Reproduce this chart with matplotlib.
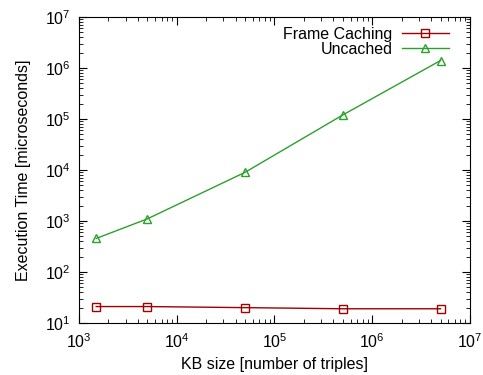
import matplotlib
matplotlib.use("Agg")
import matplotlib.pyplot as plt
from matplotlib.ticker import LogLocator, NullFormatter

# KB sizes (number of triples)
kb_size = [1500, 5000, 50000, 500000, 5000000]
# execution times in microseconds
frame_caching = [21, 21, 20, 19, 19]
uncached = [455, 1100, 9000, 120000, 1400000]

plt.rcParams['font.family'] = ['Liberation Sans', 'DejaVu Sans']
plt.rcParams['mathtext.fontset'] = 'custom'
plt.rcParams['mathtext.rm'] = 'Liberation Sans'

fig = plt.figure(figsize=(4.83, 3.75), dpi=100)
ax = fig.add_axes([0.1636, 0.1387, 0.8094, 0.816])

red = '#a00000'
green = '#2ca02c'
ax.plot(kb_size, frame_caching, color=red, lw=1, marker='s', ms=6,
        mfc='none', mec=red, mew=1, label='Frame Caching')
ax.plot(kb_size, uncached, color=green, lw=1, marker='^', ms=6,
        mfc='none', mec=green, mew=1, label='Uncached')

ax.set_xscale('log')
ax.set_yscale('log')
ax.set_xlim(1e3, 1e7)
ax.set_ylim(1e1, 1e7)

for axis in (ax.xaxis, ax.yaxis):
    axis.set_major_locator(LogLocator(base=10, numticks=20))
    axis.set_minor_locator(LogLocator(base=10, subs=range(2, 10), numticks=20))
    axis.set_minor_formatter(NullFormatter())

ax.tick_params(which='both', direction='in', top=True, right=True, labelsize=11.5)
ax.tick_params(which='major', length=6, width=0.8)
ax.tick_params(which='minor', length=3, width=0.6)
ax.tick_params(axis='x', pad=7)
ax.tick_params(axis='y', pad=6)

ax.set_xlabel('KB size [number of triples]', fontsize=11.5, labelpad=4)
ax.set_ylabel('Execution Time [microseconds]', fontsize=11.5, labelpad=10)

ax.legend(loc='upper right', frameon=False, markerfirst=False, fontsize=11.5,
          handlelength=2.9, labelspacing=0.0, borderaxespad=0.2,
          handletextpad=0.6, bbox_to_anchor=(0.97, 1.0))

fig.savefig('out.png', dpi=100)
